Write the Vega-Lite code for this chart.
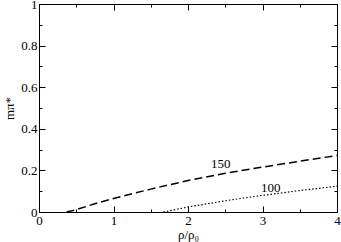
{
  "$schema": "https://vega.github.io/schema/vega-lite/v6.json",
  "width": 298,
  "height": 208,
  "autosize": "none",
  "padding": {"left": 39, "top": 4, "right": 4, "bottom": 30},
  "background": "white",
  "config": {
    "view": {"stroke": "black", "strokeWidth": 1},
    "font": "Liberation Serif",
    "axis": {
      "domainColor": "black",
      "tickColor": "black",
      "grid": false,
      "labelFont": "Liberation Serif",
      "labelFontSize": 13,
      "labelColor": "black",
      "titleFont": "Liberation Serif",
      "titleFontSize": 13,
      "titleFontWeight": "normal",
      "titleColor": "black"
    }
  },
  "data": {
    "values": [
      {"series": "150", "x": 0.37, "y": 0},
      {"series": "150", "x": 0.5, "y": 0.011},
      {"series": "150", "x": 0.75, "y": 0.04},
      {"series": "150", "x": 1, "y": 0.065},
      {"series": "150", "x": 1.25, "y": 0.088},
      {"series": "150", "x": 1.5, "y": 0.11},
      {"series": "150", "x": 1.75, "y": 0.131},
      {"series": "150", "x": 2, "y": 0.151},
      {"series": "150", "x": 2.5, "y": 0.186},
      {"series": "150", "x": 3, "y": 0.216},
      {"series": "150", "x": 3.5, "y": 0.244},
      {"series": "150", "x": 4, "y": 0.272},
      {"series": "100", "x": 1.67, "y": 0},
      {"series": "100", "x": 2, "y": 0.024},
      {"series": "100", "x": 2.5, "y": 0.054},
      {"series": "100", "x": 3, "y": 0.08},
      {"series": "100", "x": 3.5, "y": 0.103},
      {"series": "100", "x": 4, "y": 0.124}
    ]
  },
  "layer": [
    {
      "mark": {"type": "line", "color": "black", "clip": true},
      "encoding": {
        "x": {
          "field": "x", "type": "quantitative",
          "scale": {"domain": [0, 4], "nice": false, "zero": false},
          "axis": {
            "title": "ρ/ρ₀",
            "titlePadding": 1,
            "values": [0, 0.5, 1, 1.5, 2, 2.5, 3, 3.5, 4],
            "labelExpr": "datum.value % 1 === 0 ? format(datum.value, 'd') : ''",
            "tickSize": {"condition": {"test": "datum.value % 1 === 0", "value": -6}, "value": -3},
            "labelPadding": 8,
            "labelFlush": false
          }
        },
        "y": {
          "field": "y", "type": "quantitative",
          "scale": {"domain": [0, 1], "nice": false},
          "axis": {
            "title": "mπ*",
            "titlePadding": 4,
            "values": [0, 0.1, 0.2, 0.3, 0.4, 0.5, 0.6, 0.7, 0.8, 0.9, 1],
            "labelExpr": "round(datum.value * 10) % 2 === 0 ? format(datum.value, '~g') : ''",
            "tickSize": {"condition": {"test": "round(datum.value * 10) % 2 === 0", "value": -6}, "value": -3},
            "labelPadding": 8,
            "labelFlush": false
          }
        },
        "strokeDash": {
          "field": "series", "type": "nominal",
          "scale": {"domain": ["150", "100"], "range": [[8, 4], [1.5, 2]]},
          "legend": null
        },
        "strokeWidth": {
          "field": "series", "type": "nominal",
          "scale": {"domain": ["150", "100"], "range": [1.5, 1.2]},
          "legend": null
        }
      }
    },
    {
      "data": {
        "values": [
          {"label": "150", "x": 2.44, "y": 0.23},
          {"label": "100", "x": 3.11, "y": 0.115}
        ]
      },
      "mark": {"type": "text", "font": "Liberation Serif", "fontSize": 13, "color": "black"},
      "encoding": {
        "x": {
          "field": "x", "type": "quantitative",
          "axis": {
            "orient": "top", "title": null, "labels": false,
            "values": [0, 0.5, 1, 1.5, 2, 2.5, 3, 3.5, 4],
            "tickSize": {"condition": {"test": "datum.value % 1 === 0", "value": -6}, "value": -3}
          }
        },
        "y": {
          "field": "y", "type": "quantitative",
          "axis": {
            "orient": "right", "title": null, "labels": false,
            "values": [0, 0.1, 0.2, 0.3, 0.4, 0.5, 0.6, 0.7, 0.8, 0.9, 1],
            "tickSize": {"condition": {"test": "round(datum.value * 10) % 2 === 0", "value": -6}, "value": -3}
          }
        },
        "text": {"field": "label"}
      }
    }
  ],
  "resolve": {"axis": {"x": "independent", "y": "independent"}}
}
